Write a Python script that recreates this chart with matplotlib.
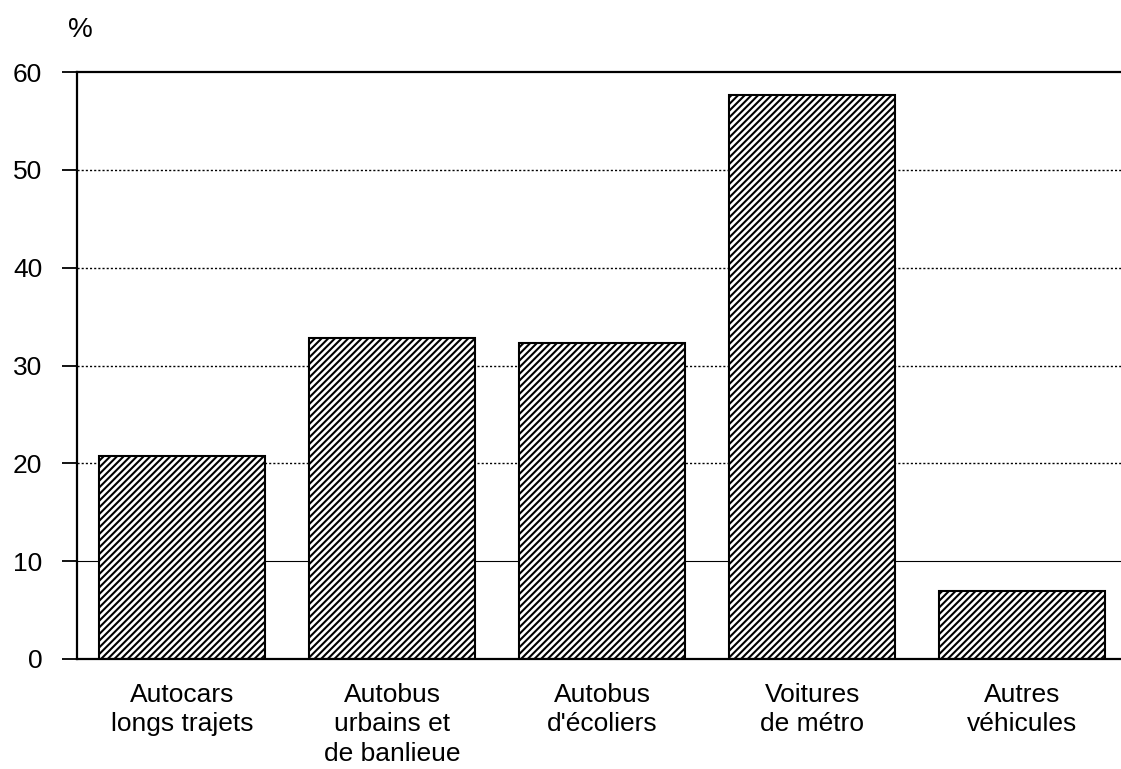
import numpy as np
import matplotlib.pyplot as plt

categories = ["Autocars\nlongs trajets", "Autobus\nurbains et\nde banlieue",
              "Autobus\nd'écoliers", "Voitures\nde métro", "Autres\nvéhicules"]
values = [20.8, 32.8, 32.3, 57.7, 6.9]
yticks = [0, 10, 20, 30, 40, 50, 60]

plt.rcParams['font.family'] = ['Liberation Sans', 'DejaVu Sans']
plt.rcParams['hatch.linewidth'] = 1.5

fig = plt.figure(figsize=(11.21, 7.69), dpi=100)
ax = fig.add_axes([77 / 1121, 1 - 659 / 769, 1 - 77 / 1121, (659 - 72) / 769])

x = np.arange(len(categories))

# grid lines: 10 solid, 20-50 dotted, 60 solid (frame top)
ax.axhline(10, color='black', lw=0.8, zorder=1)
for yv in [20, 30, 40, 50]:
    ax.axhline(yv, color='black', lw=1.0, ls=(0, (1.5, 1.5)), zorder=1)

ax.bar(x, values, width=0.79, facecolor='white', edgecolor='black',
       hatch='/////', linewidth=1.5, zorder=2)

ax.set_xlim(-0.5, 4.47)
ax.set_ylim(0, 60)
ax.set_yticks(yticks)
ax.tick_params(axis='y', direction='out', length=11, width=1.3, pad=14, labelsize=19)
ax.set_xticks(x)
ax.set_xticklabels(categories, fontsize=19, linespacing=1.3)
ax.tick_params(axis='x', length=0, pad=17)

ax.spines['right'].set_visible(False)
ax.spines['top'].set_linewidth(1.6)
ax.spines['left'].set_linewidth(1.6)
ax.spines['bottom'].set_linewidth(1.6)

fig.text(68 / 1121, 1 - 30 / 769, '%', fontsize=20, ha='left', va='center')

fig.savefig('out.png', dpi=100)
